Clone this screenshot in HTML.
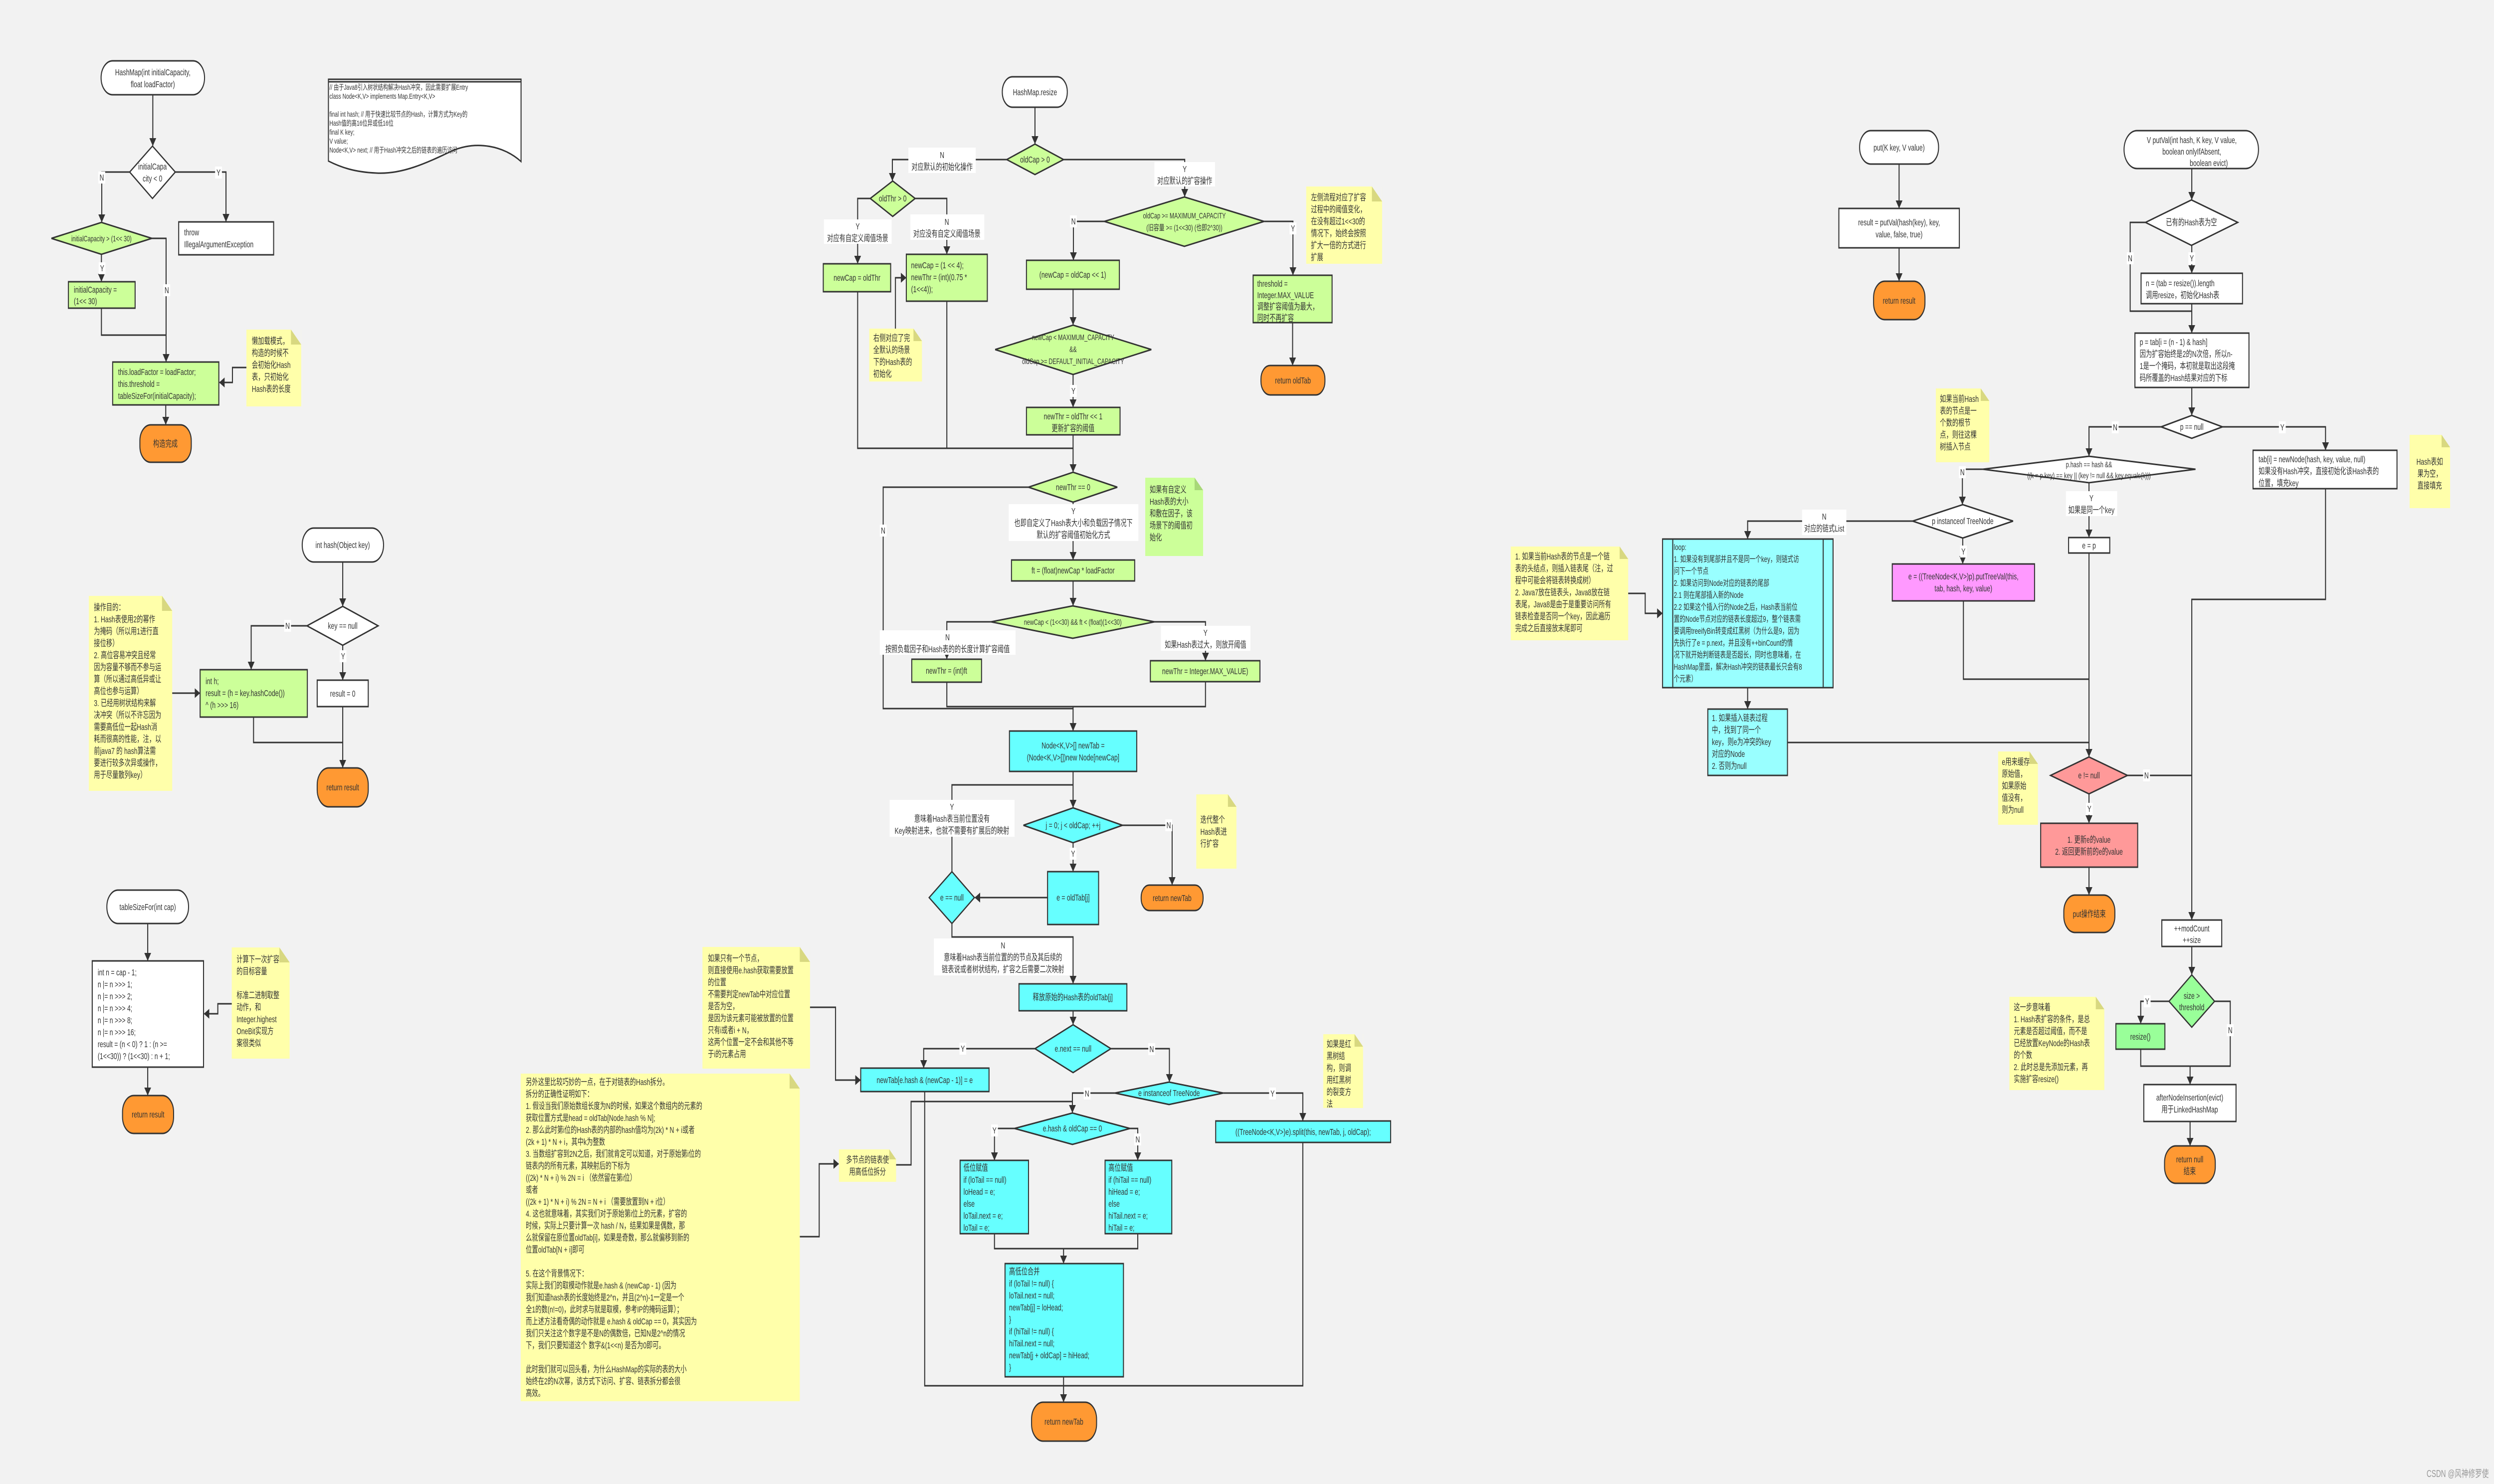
<!DOCTYPE html>
<html><head><meta charset="utf-8"><style>
html,body{margin:0;padding:0;background:#f2f2f2;overflow:hidden;width:100%;height:100%}
svg{display:block;width:100vw;height:100vh}
.s{stroke:#333;stroke-width:3;fill:none}
.a{stroke:#333;stroke-width:3;fill:none;marker-end:url(#ar)}
.bx{stroke:#333;stroke-width:3}
text{font-family:"Liberation Sans","Noto Sans CJK SC",sans-serif;font-size:18px;fill:#333}
.m{text-anchor:middle}
.sm{font-size:16px}
.w{fill:#fff}.g{fill:#ccff99}.c{fill:#66ffff}.lc{fill:#99ffff}.o{fill:#ff9933}.y{fill:#ffffaa}.pk{fill:#ff99ff}.rd{fill:#ff9999}.lg{fill:#99ff99}
</style></head><body>
<svg viewBox="0 0 7328 2976" preserveAspectRatio="none" xmlns="http://www.w3.org/2000/svg">
<defs><marker id="ar" markerUnits="userSpaceOnUse" markerWidth="16" markerHeight="20" refX="15" refY="10" orient="auto"><path d="M0,0 L16,10 L0,20 Z" fill="#333"/></marker></defs>
<rect width="7328" height="2976" fill="#f2f2f2"/>

<!-- ===== HashMap constructor ===== -->
<rect x="297" y="122" width="304" height="68" rx="34" class="bx w"/>
<text class="m" x="449" y="151">HashMap(int initialCapacity,</text>
<text class="m" x="449" y="175">float loadFactor)</text>
<path class="a" d="M449,190 V292"/>
<polygon points="381,345 448,293 515,345 448,398" class="bx w"/>
<text class="m" x="448" y="340">initialCapa</text><text class="m" x="448" y="364">city &lt; 0</text>
<path class="a" d="M381,345 H299 V445"/>
<rect x="289" y="344" width="20" height="24" fill="#fff"/><text class="m" x="299" y="362">N</text>
<path class="a" d="M515,345 H664 V444"/>
<rect x="632" y="334" width="20" height="24" fill="#fff"/><text class="m" x="642" y="352">Y</text>
<rect x="525" y="445" width="279" height="66" class="bx w"/>
<text x="541" y="472">throw</text><text x="541" y="496">IllegalArgumentException</text>
<polygon points="151,478 298,446 446,478 298,510" class="bx g"/>
<text class="m sm" x="298" y="484">initialCapacity &gt; (1&lt;&lt; 30)</text>
<path class="a" d="M298,510 V564"/>
<rect x="290" y="526" width="20" height="24" fill="#fff"/><text class="m" x="300" y="544">Y</text>
<rect x="201" y="565" width="196" height="53" class="bx g"/>
<text x="217" y="587">initialCapacity =</text><text x="217" y="610">(1&lt;&lt; 30)</text>
<path class="a" d="M446,478 H488 V725"/>
<rect x="480" y="570" width="20" height="24" fill="#fff"/><text class="m" x="490" y="588">N</text>
<path class="s" d="M298,618 V672 H488"/>
<rect x="331" y="726" width="312" height="86" class="bx g"/>
<text x="347" y="752">this.loadFactor = loadFactor;</text><text x="347" y="776">this.threshold =</text><text x="347" y="800">tableSizeFor(initialCapacity);</text>
<rect x="724" y="661" width="161" height="154" class="y"/><polygon points="855,661 885,661 885,691" fill="#f2f2f2"/><polygon points="855,661 885,691 855,691" fill="#d8d880"/>
<text x="740" y="690">懒加载模式，</text><text x="740" y="714">构造的时候不</text><text x="740" y="738">会初始化Hash</text><text x="740" y="762">表，只初始化</text><text x="740" y="786">Hash表的长度</text>
<path class="a" d="M724,737 H683 V767 H645"/>
<path class="a" d="M487,812 V851"/>
<rect x="411" y="852" width="151" height="75" rx="32" class="bx o"/><text class="m" x="486" y="896">构造完成</text>

<!-- ===== Node doc ===== -->
<path d="M965,159 H1531 V324 C1480,292 1400,282 1330,302 C1250,328 1180,350 1105,347 C1040,345 1000,335 965,323 Z" class="bx w"/>
<path class="s" d="M965,164 H1531"/>
<text style="font-size:15px" x="968" y="180">// 由于Java8引入树状结构解决Hash冲突，因此需要扩展Entry</text>
<text style="font-size:15px" x="968" y="198">class Node&lt;K,V&gt; implements Map.Entry&lt;K,V&gt;</text>
<text style="font-size:15px" x="968" y="234">final int hash; // 用于快速比较节点的Hash，计算方式为Key的</text>
<text style="font-size:15px" x="968" y="252">Hash值的高16位异或低16位</text>
<text style="font-size:15px" x="968" y="270">final K key;</text>
<text style="font-size:15px" x="968" y="288">V value;</text>
<text style="font-size:15px" x="968" y="306">Node&lt;K,V&gt; next; // 用于Hash冲突之后的链表的遍历访问</text>

<!-- ===== hash() ===== -->
<rect x="888" y="1059" width="239" height="68" rx="34" class="bx w"/><text class="m" x="1007" y="1099">int hash(Object key)</text>
<path class="a" d="M1007,1127 V1215"/>
<polygon points="902,1255 1007,1216 1111,1255 1007,1294" class="bx w"/><text class="m" x="1007" y="1261">key == null</text>
<path class="a" d="M902,1255 H738 V1342"/>
<rect x="835" y="1243" width="20" height="24" fill="#fff"/><text class="m" x="845" y="1261">N</text>
<rect x="588" y="1343" width="315" height="95" class="bx g"/>
<text x="604" y="1372">int h;</text><text x="604" y="1396">result = (h = key.hashCode())</text><text x="604" y="1420">^ (h &gt;&gt;&gt; 16)</text>
<path class="a" d="M1007,1294 V1363"/>
<rect x="998" y="1304" width="20" height="24" fill="#fff"/><text class="m" x="1008" y="1322">Y</text>
<rect x="932" y="1364" width="150" height="53" class="bx w"/><text class="m" x="1007" y="1397">result = 0</text>
<path class="a" d="M1007,1417 V1539"/><path class="s" d="M745,1438 V1489 H1007"/>
<rect x="932" y="1540" width="150" height="78" rx="34" class="bx o"/><text class="m" x="1007" y="1585">return result</text>
<rect x="261" y="1195" width="245" height="391" class="y"/><polygon points="476,1195 506,1195 506,1225" fill="#f2f2f2"/><polygon points="476,1195 506,1225 476,1225" fill="#d8d880"/>
<text x="276" y="1224">操作目的：</text><text x="276" y="1248">1. Hash表使用2的幂作</text><text x="276" y="1272">为掩码（所以用1进行直</text><text x="276" y="1296">接位移）</text><text x="276" y="1320">2. 高位容易冲突且经常</text><text x="276" y="1344">因为容量不够而不参与运</text><text x="276" y="1368">算（所以通过高低异或让</text><text x="276" y="1392">高位也参与运算）</text><text x="276" y="1416">3. 已经用树状结构来解</text><text x="276" y="1440">决冲突（所以不许忘因为</text><text x="276" y="1464">需要高低位一起Hash消</text><text x="276" y="1488">耗而很高的性能，注，以</text><text x="276" y="1512">前java7 的 hash算法需</text><text x="276" y="1536">要进行较多次异或操作，</text><text x="276" y="1560">用于尽量散列key）</text>
<path class="a" d="M506,1390 H587"/>

<!-- ===== tableSizeFor ===== -->
<rect x="314" y="1785" width="240" height="67" rx="33" class="bx w"/><text class="m" x="434" y="1825">tableSizeFor(int cap)</text>
<path class="a" d="M434,1852 V1926"/>
<rect x="271" y="1927" width="327" height="213" class="bx w"/>
<text x="287" y="1956">int n = cap - 1;</text><text x="287" y="1980">n |= n &gt;&gt;&gt; 1;</text><text x="287" y="2004">n |= n &gt;&gt;&gt; 2;</text><text x="287" y="2028">n |= n &gt;&gt;&gt; 4;</text><text x="287" y="2052">n |= n &gt;&gt;&gt; 8;</text><text x="287" y="2076">n |= n &gt;&gt;&gt; 16;</text><text x="287" y="2100">result = (n &lt; 0) ? 1 : (n &gt;=</text><text x="287" y="2124">(1&lt;&lt;30)) ? (1&lt;&lt;30) : n + 1;</text>
<path class="a" d="M434,2140 V2196"/>
<rect x="360" y="2197" width="150" height="76" rx="33" class="bx o"/><text class="m" x="435" y="2241">return result</text>
<rect x="681" y="1900" width="170" height="223" class="y"/><polygon points="821,1900 851,1900 851,1930" fill="#f2f2f2"/><polygon points="821,1900 851,1930 821,1930" fill="#d8d880"/>
<text x="695" y="1930">计算下一次扩容</text><text x="695" y="1954">的目标容量</text><text x="695" y="2002">标准二进制取整</text><text x="695" y="2026">动作，和</text><text x="695" y="2050">Integer.highest</text><text x="695" y="2074">OneBit实现方</text><text x="695" y="2098">案很类似</text>
<path class="a" d="M681,2013 H640 V2033 H600"/>

<!-- ===== resize ===== -->
<rect x="2945" y="154" width="191" height="61" rx="30" class="bx w"/><text class="m" x="3041" y="191">HashMap.resize</text>
<path class="a" d="M3041,215 V288"/>
<polygon points="2958,320 3041,289 3125,320 3041,350" class="bx g"/><text class="m" x="3041" y="326">oldCap &gt; 0</text>
<path class="a" d="M2958,320 H2622 V362"/>
<rect x="2669" y="296" width="198" height="51" fill="#fff"/><text class="m" x="2768" y="317">N</text><text class="m" x="2768" y="341">对应默认的初始化操作</text>
<path class="a" d="M3125,320 H3481 V394"/>
<rect x="3392" y="325" width="178" height="49" fill="#fff"/><text class="m" x="3481" y="345">Y</text><text class="m" x="3481" y="369">对应默认的扩容操作</text>
<polygon points="2557,398 2623,363 2689,398 2623,434" class="bx g"/><text class="m" x="2623" y="404">oldThr &gt; 0</text>
<path class="a" d="M2557,398 H2520 V528"/>
<rect x="2421" y="440" width="199" height="49" fill="#fff"/><text class="m" x="2520" y="460">Y</text><text class="m" x="2520" y="484">对应有自定义阈值场景</text>
<path class="a" d="M2689,398 H2782 V509"/>
<rect x="2675" y="430" width="217" height="51" fill="#fff"/><text class="m" x="2782" y="451">N</text><text class="m" x="2782" y="475">对应没有自定义阈值场景</text>
<rect x="2419" y="529" width="198" height="56" class="bx g"/><text class="m" x="2518" y="563">newCap = oldThr</text>
<rect x="2663" y="510" width="238" height="94" class="bx g"/>
<text x="2677" y="538">newCap = (1 &lt;&lt; 4);</text><text x="2677" y="562">newThr = (int)(0.75 *</text><text x="2677" y="586">(1&lt;&lt;4));</text>
<rect x="2554" y="659" width="155" height="106" class="y"/><polygon points="2684,659 2709,659 2709,684" fill="#f2f2f2"/><polygon points="2684,659 2709,684 2684,684" fill="#d8d880"/>
<text x="2566" y="684">右侧对应了完</text><text x="2566" y="708">全默认的场景</text><text x="2566" y="732">下的Hash表的</text><text x="2566" y="756">初始化</text>
<path class="a" d="M2631,659 V557 H2662"/>
<polygon points="3245,444 3480,395 3714,444 3480,494" class="bx g"/>
<text class="m sm" x="3480" y="438">oldCap &gt;= MAXIMUM_CAPACITY</text><text class="m sm" x="3480" y="462">(旧容量 &gt;= (1&lt;&lt;30) (也即2^30))</text>
<path class="a" d="M3245,444 H3154 V521"/>
<rect x="3144" y="432" width="20" height="24" fill="#fff"/><text class="m" x="3154" y="450">N</text>
<rect x="3016" y="522" width="273" height="58" class="bx g"/><text class="m" x="3152" y="557">(newCap = oldCap &lt;&lt; 1)</text>
<path class="a" d="M3714,444 H3799 V551"/>
<rect x="3789" y="446" width="20" height="24" fill="#fff"/><text class="m" x="3799" y="464">Y</text>
<rect x="3682" y="552" width="232" height="95" class="bx g"/>
<text x="3694" y="575">threshold =</text><text x="3694" y="598">Integer.MAX_VALUE</text><text x="3694" y="621">调整扩容阈值为最大，</text><text x="3694" y="644">同时不再扩容</text>
<rect x="3838" y="374" width="223" height="155" class="y"/><polygon points="4031,374 4061,374 4061,404" fill="#f2f2f2"/><polygon points="4031,374 4061,404 4031,404" fill="#d8d880"/>
<text x="3852" y="402">左侧流程对应了扩容</text><text x="3852" y="426">过程中的阈值变化，</text><text x="3852" y="450">在没有超过1&lt;&lt;30的</text><text x="3852" y="474">情况下，始终会按照</text><text x="3852" y="498">扩大一倍的方式进行</text><text x="3852" y="522">扩展</text>
<path class="a" d="M3798,647 V732"/>
<rect x="3705" y="733" width="188" height="59" rx="27" class="bx o"/><text class="m" x="3799" y="769">return oldTab</text>
<path class="a" d="M3153,580 V651"/>
<polygon points="2924,701 3153,652 3383,701 3153,751" class="bx g"/>
<text class="m sm" x="3153" y="682">newCap &lt; MAXIMUM_CAPACITY</text><text class="m sm" x="3153" y="706">&amp;&amp;</text><text class="m sm" x="3153" y="730">oldCap &gt;= DEFAULT_INITIAL_CAPACITY</text>
<path class="a" d="M3153,751 V816"/>
<rect x="3144" y="772" width="20" height="24" fill="#fff"/><text class="m" x="3154" y="790">Y</text>
<rect x="3016" y="817" width="275" height="55" class="bx g"/><text class="m" x="3153" y="841">newThr = oldThr &lt;&lt; 1</text><text class="m" x="3153" y="865">更新扩容的阈值</text>
<path class="s" d="M2520,585 V899 H3153"/><path class="s" d="M2782,604 V899"/>
<path class="a" d="M3153,872 V946"/>
<polygon points="3022,977 3153,947 3283,977 3153,1007" class="bx g"/><text class="m" x="3153" y="983">newThr == 0</text>
<path class="s" d="M3022,977 H2595 V1421 H3153"/>
<rect x="2585" y="1052" width="20" height="24" fill="#fff"/><text class="m" x="2595" y="1070">N</text>
<path class="a" d="M3153,1007 V1122"/>
<rect x="2964" y="1011" width="381" height="74" fill="#fff"/><text class="m" x="3154" y="1031">Y</text><text class="m" x="3154" y="1055">也即自定义了Hash表大小和负载因子情况下</text><text class="m" x="3154" y="1079">默认的扩容阈值初始化方式</text>
<rect x="3365" y="958" width="170" height="157" class="g"/><polygon points="3510,958 3535,958 3535,983" fill="#f2f2f2"/><polygon points="3510,958 3535,983 3510,983" fill="#a8d878"/>
<text x="3378" y="988">如果有自定义</text><text x="3378" y="1012">Hash表的大小</text><text x="3378" y="1036">和敷在因子，该</text><text x="3378" y="1060">场景下的阈值初</text><text x="3378" y="1084">始化</text>
<rect x="2972" y="1123" width="362" height="42" class="bx g"/><text class="m" x="3153" y="1150">ft = (float)newCap * loadFactor</text>
<path class="a" d="M3153,1165 V1214"/>
<polygon points="2912,1247 3152,1215 3392,1247 3152,1280" class="bx g"/><text class="m sm" x="3152" y="1253">newCap &lt; (1&lt;&lt;30) &amp;&amp; ft &lt; (float)(1&lt;&lt;30)</text>
<path class="a" d="M2912,1247 H2782 V1321"/>
<rect x="2585" y="1264" width="399" height="49" fill="#fff"/><text class="m" x="2784" y="1284">N</text><text class="m" x="2784" y="1308">按照负载因子和Hash表的的长度计算扩容阈值</text>
<rect x="2679" y="1322" width="205" height="46" class="bx g"/><text class="m" x="2781" y="1351">newThr = (int)ft</text>
<path class="a" d="M3392,1247 H3542 V1324"/>
<rect x="3411" y="1255" width="263" height="50" fill="#fff"/><text class="m" x="3542" y="1275">Y</text><text class="m" x="3542" y="1299">如果Hash表过大，则放开阈值</text>
<rect x="3380" y="1325" width="322" height="42" class="bx g"/><text class="m" x="3541" y="1352">newThr = Integer.MAX_VALUE)</text>
<path class="s" d="M2782,1368 V1417 H3542 V1367"/>
<path class="a" d="M3153,1417 V1465"/>
<rect x="2966" y="1466" width="374" height="81" class="bx c"/><text class="m" x="3153" y="1501">Node&lt;K,V&gt;[] newTab =</text><text class="m" x="3153" y="1525">(Node&lt;K,V&gt;[])new Node[newCap]</text>
<path class="a" d="M3153,1547 V1619"/>
<polygon points="3007,1655 3153,1620 3298,1655 3153,1690" class="bx c"/><text class="m" x="3153" y="1661">j = 0; j &lt; oldCap; ++j</text>
<path class="s" d="M2797,1748 V1574 H3153"/>
<rect x="2614" y="1604" width="367" height="74" fill="#fff"/><text class="m" x="2797" y="1624">Y</text><text class="m" x="2797" y="1648">意味着Hash表当前位置没有</text><text class="m" x="2797" y="1672">Key映射进来，也就不需要有扩展后的映射</text>
<path class="a" d="M3298,1655 H3444 V1774"/>
<rect x="3424" y="1643" width="20" height="24" fill="#fff"/><text class="m" x="3434" y="1661">N</text>
<rect x="3515" y="1593" width="118" height="149" class="y"/><polygon points="3608,1593 3633,1593 3633,1618" fill="#f2f2f2"/><polygon points="3608,1593 3633,1618 3608,1618" fill="#d8d880"/>
<text x="3527" y="1650">迭代整个</text><text x="3527" y="1674">Hash表进</text><text x="3527" y="1698">行扩容</text>
<rect x="3353" y="1775" width="182" height="51" rx="24" class="bx o"/><text class="m" x="3444" y="1807">return newTab</text>
<path class="a" d="M3153,1690 V1747"/>
<rect x="3143" y="1700" width="20" height="24" fill="#fff"/><text class="m" x="3153" y="1718">Y</text>
<rect x="3078" y="1748" width="150" height="106" class="bx c"/><text class="m" x="3153" y="1806">e = oldTab[j]</text>
<polygon points="2730,1800 2797,1748 2863,1800 2797,1852" class="bx c"/><text class="m" x="2797" y="1806">e == null</text>
<path class="a" d="M3078,1800 H2865"/>
<path class="a" d="M2797,1852 V1879 H3153 V1972"/>
<rect x="2744" y="1882" width="406" height="74" fill="#fff"/><text class="m" x="2947" y="1902">N</text><text class="m" x="2947" y="1926">意味着Hash表当前位置的的节点及其后续的</text><text class="m" x="2947" y="1950">链表说或者树状结构，扩容之后需要二次映射</text>
<rect x="2994" y="1973" width="317" height="54" class="bx c"/><text class="m" x="3152" y="2006">释放原始的Hash表的oldTab[j]</text>
<path class="a" d="M3153,2027 V2054"/>
<polygon points="3041,2103 3153,2055 3264,2103 3153,2151" class="bx c"/><text class="m" x="3153" y="2109">e.next == null</text>
<path class="a" d="M3041,2103 H2714 V2141"/>
<rect x="2819" y="2091" width="20" height="24" fill="#fff"/><text class="m" x="2829" y="2109">Y</text>
<rect x="2529" y="2142" width="377" height="47" class="bx c"/><text class="m" x="2717" y="2172">newTab[e.hash &amp; (newCap - 1)] = e</text>
<path class="a" d="M3264,2103 H3436 V2169"/>
<rect x="3374" y="2092" width="20" height="24" fill="#fff"/><text class="m" x="3384" y="2110">N</text>
<polygon points="3276,2192 3435,2170 3594,2192 3435,2215" class="bx c"/><text class="m" x="3435" y="2198">e instanceof TreeNode</text>
<path class="a" d="M3276,2192 H3151 V2231"/>
<rect x="3184" y="2181" width="20" height="24" fill="#fff"/><text class="m" x="3194" y="2199">N</text>
<path class="a" d="M3594,2192 H3828 V2247"/>
<rect x="3729" y="2181" width="20" height="24" fill="#fff"/><text class="m" x="3739" y="2199">Y</text>
<rect x="3572" y="2248" width="514" height="43" class="bx c"/><text class="m" x="3829" y="2276">((TreeNode&lt;K,V&gt;)e).split(this, newTab, j, oldCap);</text>
<rect x="3888" y="2074" width="117" height="148" class="y"/><polygon points="3980,2074 4005,2074 4005,2099" fill="#f2f2f2"/><polygon points="3980,2074 4005,2099 3980,2099" fill="#d8d880"/>
<text x="3898" y="2100">如果是红</text><text x="3898" y="2124">黑树结</text><text x="3898" y="2148">构，则调</text><text x="3898" y="2172">用红黑树</text><text x="3898" y="2196">的裂变方</text><text x="3898" y="2220">法</text>
<polygon points="2981,2263 3151,2232 3320,2263 3151,2295" class="bx c"/><text class="m" x="3151" y="2269">e.hash &amp; oldCap == 0</text>
<path class="a" d="M2981,2263 H2922 V2326"/>
<rect x="2912" y="2255" width="20" height="24" fill="#fff"/><text class="m" x="2922" y="2273">Y</text>
<path class="a" d="M3320,2263 H3343 V2326"/>
<rect x="3333" y="2273" width="20" height="24" fill="#fff"/><text class="m" x="3343" y="2291">N</text>
<rect x="2821" y="2327" width="201" height="147" class="bx c"/>
<text x="2831" y="2348">低位赋值</text><text x="2831" y="2372">if (loTail == null)</text><text x="2831" y="2396">    loHead = e;</text><text x="2831" y="2420">else</text><text x="2831" y="2444">    loTail.next = e;</text><text x="2831" y="2468">loTail = e;</text>
<rect x="3247" y="2327" width="196" height="147" class="bx c"/>
<text x="3257" y="2348">高位赋值</text><text x="3257" y="2372">if (hiTail == null)</text><text x="3257" y="2396">    hiHead = e;</text><text x="3257" y="2420">else</text><text x="3257" y="2444">    hiTail.next = e;</text><text x="3257" y="2468">hiTail = e;</text>
<path class="s" d="M2922,2474 V2504 H3343 V2474"/><path class="a" d="M3125,2504 V2533"/>
<rect x="2953" y="2534" width="348" height="227" class="bx c"/>
<text x="2965" y="2556">高低位合并</text><text x="2965" y="2580">if (loTail != null) {</text><text x="2965" y="2604">    loTail.next = null;</text><text x="2965" y="2628">    newTab[j] = loHead;</text><text x="2965" y="2652">}</text><text x="2965" y="2676">if (hiTail != null) {</text><text x="2965" y="2700">    hiTail.next = null;</text><text x="2965" y="2724">    newTab[j + oldCap] = hiHead;</text><text x="2965" y="2748">}</text>
<path class="s" d="M2717,2189 V2779 H3828 V2291"/><path class="a" d="M3125,2761 V2811"/>
<rect x="3031" y="2812" width="191" height="78" rx="34" class="bx o"/><text class="m" x="3126" y="2857">return newTab</text>
<rect x="2064" y="1899" width="316" height="244" class="y"/><polygon points="2350,1899 2380,1899 2380,1929" fill="#f2f2f2"/><polygon points="2350,1899 2380,1929 2350,1929" fill="#d8d880"/>
<text x="2080" y="1928">如果只有一个节点，</text><text x="2080" y="1952">则直接使用e.hash获取需要放置</text><text x="2080" y="1976">的位置</text><text x="2080" y="2000">不需要判定newTab中对应位置</text><text x="2080" y="2024">是否为空，</text><text x="2080" y="2048">是因为该元素可能被放置的位置</text><text x="2080" y="2072">只有i或者i + N，</text><text x="2080" y="2096">这两个位置一定不会和其他不等</text><text x="2080" y="2120">于i的元素占用</text>
<path class="a" d="M2380,2020 H2455 V2166 H2528"/>
<rect x="2465" y="2305" width="168" height="65" class="y"/><polygon points="2613,2305 2633,2305 2633,2325" fill="#f2f2f2"/><polygon points="2613,2305 2633,2325 2613,2325" fill="#d8d880"/>
<text class="m" x="2549" y="2332">多节点的链表使</text><text class="m" x="2549" y="2356">用高低位拆分</text>
<path class="s" d="M2633,2336 H2677 V2209 H3151"/>
<rect x="1530" y="2153" width="820" height="657" class="y"/><polygon points="2320,2153 2350,2153 2350,2183" fill="#f2f2f2"/><polygon points="2320,2153 2350,2183 2320,2183" fill="#d8d880"/>
<text x="1545" y="2176">另外这里比较巧妙的一点，在于对链表的Hash拆分。</text>
<text x="1545" y="2200">拆分的正确性证明如下：</text>
<text x="1545" y="2224">1. 假设当我们原始数组长度为N的时候，如果这个数组内的元素的</text>
<text x="1545" y="2248">获取位置方式是head = oldTab[Node.hash % N];</text>
<text x="1545" y="2272">2. 那么此时第i位的Hash表的内部的hash值均为(2k) * N + i或者</text>
<text x="1545" y="2296">(2k + 1) * N + i，其中k为整数</text>
<text x="1545" y="2320">3. 当数组扩容到2N之后，我们就肯定可以知道，对于原始第i位的</text>
<text x="1545" y="2344">链表内的所有元素，其映射后的下标为</text>
<text x="1545" y="2368">((2k) * N + i) % 2N = i （依然留在第i位）</text>
<text x="1545" y="2392">或者</text>
<text x="1545" y="2416">((2k + 1) * N + i) % 2N = N + i （需要放置到N + i位）</text>
<text x="1545" y="2440">4. 这也就意味着，其实我们对于原始第i位上的元素，扩容的</text>
<text x="1545" y="2464">时候，实际上只要计算一次 hash / N，结果如果是偶数，那</text>
<text x="1545" y="2488">么就保留在原位置oldTab[i]，如果是奇数，那么就偏移到新的</text>
<text x="1545" y="2512">位置oldTab[N + i]即可</text>
<text x="1545" y="2560">5. 在这个背景情况下：</text>
<text x="1545" y="2584">实际上我们的取模动作就是e.hash &amp; (newCap - 1) (因为</text>
<text x="1545" y="2608">我们知道hash表的长度始终是2^n，并且(2^n)-1一定是一个</text>
<text x="1545" y="2632">全1的数(n!=0)，此时求与就是取模，参考IP的掩码运算）；</text>
<text x="1545" y="2656">而上述方法看奇偶的动作就是 e.hash &amp; oldCap == 0，其实因为</text>
<text x="1545" y="2680">我们只关注这个数字是不是N的偶数倍，已知N是2^n的情况</text>
<text x="1545" y="2704">下，我们只要知道这个 数字&amp;(1&lt;&lt;n) 是否为0即可。</text>
<text x="1545" y="2752">此时我们就可以回头看，为什么HashMap的实际的表的大小</text>
<text x="1545" y="2776">始终在2的N次幂，该方式下访问、扩容、链表拆分都会很</text>
<text x="1545" y="2800">高效。</text>
<path class="a" d="M2350,2480 H2407 V2334 H2464"/>

<!-- ===== put ===== -->
<rect x="5464" y="262" width="232" height="67" rx="33" class="bx w"/><text class="m" x="5580" y="302">put(K key, V value)</text>
<path class="a" d="M5580,329 V417"/>
<rect x="5403" y="418" width="354" height="79" class="bx w"/><text class="m" x="5580" y="452">result = putVal(hash(key), key,</text><text class="m" x="5580" y="476">value, false, true)</text>
<path class="a" d="M5580,497 V563"/>
<rect x="5505" y="564" width="151" height="77" rx="33" class="bx o"/><text class="m" x="5580" y="609">return result</text>

<!-- ===== putVal ===== -->
<rect x="6241" y="262" width="395" height="76" rx="38" class="bx w"/>
<text class="m" x="6440" y="287">V putVal(int hash, K key, V value,</text><text class="m" x="6440" y="310">boolean onlyIfAbsent,</text><text class="m" x="6490" y="333">boolean evict)</text>
<path class="a" d="M6440,338 V400"/>
<polygon points="6304,446 6439,401 6575,446 6439,492" class="bx w"/><text class="m" x="6439" y="452">已有的Hash表为空</text>
<path class="s" d="M6304,446 H6259 V624 H6440"/>
<rect x="6249" y="506" width="20" height="24" fill="#fff"/><text class="m" x="6259" y="524">N</text>
<path class="a" d="M6440,492 V547"/>
<rect x="6430" y="506" width="20" height="24" fill="#fff"/><text class="m" x="6440" y="524">Y</text>
<rect x="6291" y="548" width="298" height="61" class="bx w"/><text x="6305" y="574">n = (tab = resize()).length</text><text x="6305" y="598">调用resize，初始化Hash表</text>
<path class="a" d="M6440,609 V667"/>
<rect x="6273" y="668" width="335" height="109" class="bx w"/>
<text x="6287" y="692">p = tab[i = (n - 1) &amp; hash]</text><text x="6287" y="716">因为扩容始终是2的N次倍，所以n-</text><text x="6287" y="740">1是一个掩码，本初就是取出这段掩</text><text x="6287" y="764">码所覆盖的Hash结果对应的下标</text>
<path class="a" d="M6440,777 V832"/>
<polygon points="6350,856 6440,833 6530,856 6440,879" class="bx w"/><text class="m" x="6440" y="862">p == null</text>
<path class="a" d="M6350,856 H6138 V914"/>
<rect x="6205" y="845" width="20" height="24" fill="#fff"/><text class="m" x="6215" y="863">N</text>
<path class="a" d="M6530,856 H6833 V902"/>
<rect x="6696" y="845" width="20" height="24" fill="#fff"/><text class="m" x="6706" y="863">Y</text>
<rect x="6620" y="903" width="423" height="77" class="bx w"/>
<text x="6636" y="927">tab[i] = newNode(hash, key, value, null)</text><text x="6636" y="951">如果没有Hash冲突，直接初始化该Hash表的</text><text x="6636" y="975">位置，填充key</text>
<rect x="7080" y="872" width="119" height="147" class="y"/><polygon points="7174,872 7199,872 7199,897" fill="#f2f2f2"/><polygon points="7174,872 7199,897 7174,897" fill="#d8d880"/>
<text class="m" x="7139" y="932">Hash表如</text><text class="m" x="7139" y="956">果为空，</text><text class="m" x="7139" y="980">直接填充</text>
<polygon points="5826,941 6138,915 6451,941 6138,968" class="bx w"/>
<text class="m sm" x="6138" y="937">p.hash == hash &amp;&amp;</text><text class="m sm" x="6138" y="959">((k = p.key) == key || (key != null &amp;&amp; key.equals(k)))</text>
<path class="a" d="M5826,941 H5766 V1011"/>
<rect x="5756" y="935" width="20" height="24" fill="#fff"/><text class="m" x="5766" y="953">N</text>
<path class="a" d="M6138,968 V1077"/>
<rect x="6070" y="985" width="151" height="50" fill="#fff"/><text class="m" x="6145" y="1005">Y</text><text class="m" x="6145" y="1029">如果是同一个key</text>
<rect x="6078" y="1078" width="121" height="31" class="bx w"/><text class="m" x="6138" y="1100">e = p</text>
<path class="a" d="M6138,1109 V1517"/>
<rect x="5688" y="779" width="157" height="148" class="y"/><polygon points="5820,779 5845,779 5845,804" fill="#f2f2f2"/><polygon points="5820,779 5845,804 5820,804" fill="#d8d880"/>
<text x="5700" y="806">如果当前Hash</text><text x="5700" y="830">表的节点是一</text><text x="5700" y="854">个数的根节</text><text x="5700" y="878">点，则往这棵</text><text x="5700" y="902">树插入节点</text>
<polygon points="5620,1045 5767,1012 5915,1045 5767,1079" class="bx w"/><text class="m" x="5767" y="1051">p instanceof TreeNode</text>
<path class="a" d="M5767,1079 V1130"/>
<rect x="5759" y="1094" width="20" height="24" fill="#fff"/><text class="m" x="5769" y="1112">Y</text>
<rect x="5560" y="1131" width="418" height="74" class="bx pk"/><text class="m" x="5769" y="1162">e = ((TreeNode&lt;K,V&gt;)p).putTreeVal(this,</text><text class="m" x="5769" y="1186">tab, hash, key, value)</text>
<path class="s" d="M5769,1205 V1362 H6138"/>
<path class="a" d="M5620,1045 H5135 V1080"/>
<rect x="5295" y="1022" width="130" height="51" fill="#fff"/><text class="m" x="5360" y="1042">N</text><text class="m" x="5360" y="1066">对应的链式List</text>
<rect x="4885" y="1081" width="501" height="298" class="bx lc"/><path class="s" d="M4915,1081 V1379 M5357,1081 V1379"/>
<text style="font-size:17px" x="4918" y="1103">loop:</text>
<text style="font-size:17px" x="4918" y="1127">1. 如果没有到尾部并且不是同一个key，则链式访</text>
<text style="font-size:17px" x="4918" y="1151">问下一个节点</text>
<text style="font-size:17px" x="4918" y="1175">2. 如果访问到Node对应的链表的尾部</text>
<text style="font-size:17px" x="4918" y="1199">2.1 则在尾部插入新的Node</text>
<text style="font-size:17px" x="4918" y="1223">2.2 如果这个插入行的Node之后，Hash表当前位</text>
<text style="font-size:17px" x="4918" y="1247">置的Node节点对应的链表长度超过9，整个链表需</text>
<text style="font-size:17px" x="4918" y="1271">要调用treeifyBin转变成红黑树（为什么是9，因为</text>
<text style="font-size:17px" x="4918" y="1295">先执行了e = p.next，并且没有++binCount的情</text>
<text style="font-size:17px" x="4918" y="1319">况下就开始判断链表是否超长，同时也意味着，在</text>
<text style="font-size:17px" x="4918" y="1343">HashMap里面，解决Hash冲突的链表最长只会有8</text>
<text style="font-size:17px" x="4918" y="1367">个元素）</text>
<rect x="4439" y="1096" width="345" height="188" class="y"/><polygon points="4759,1096 4784,1096 4784,1121" fill="#f2f2f2"/><polygon points="4759,1096 4784,1121 4759,1121" fill="#d8d880"/>
<text x="4452" y="1122">1. 如果当前Hash表的节点是一个链</text><text x="4452" y="1146">表的头结点，则插入链表尾（注，过</text><text x="4452" y="1170">程中可能会将链表转换成树）</text><text x="4452" y="1194">2. Java7放在链表头，Java8放在链</text><text x="4452" y="1218">表尾，Java8是由于是重要访问所有</text><text x="4452" y="1242">链表检查是否同一个key，因此遍历</text><text x="4452" y="1266">完成之后直接放末尾即可</text>
<path class="a" d="M4784,1190 H4834 V1230 H4884"/>
<path class="a" d="M5135,1379 V1421"/>
<rect x="5018" y="1422" width="234" height="133" class="bx lc"/>
<text x="5030" y="1446">1. 如果插入链表过程</text><text x="5030" y="1470">中，找到了同一个</text><text x="5030" y="1494">key，则e为冲突的key</text><text x="5030" y="1518">对应的Node</text><text x="5030" y="1542">2. 否则为null</text>
<path class="s" d="M5252,1489 H6138"/>
<rect x="5871" y="1507" width="117" height="147" class="y"/><polygon points="5963,1507 5988,1507 5988,1532" fill="#f2f2f2"/><polygon points="5963,1507 5988,1532 5963,1532" fill="#d8d880"/>
<text x="5882" y="1534">e用来缓存</text><text x="5882" y="1558">原始值，</text><text x="5882" y="1582">如果原始</text><text x="5882" y="1606">值没有，</text><text x="5882" y="1630">则为null</text>
<polygon points="6025,1555 6138,1518 6251,1555 6138,1592" class="bx rd"/><text class="m" x="6138" y="1561">e != null</text>
<path class="s" d="M6251,1555 H6440"/>
<rect x="6297" y="1543" width="20" height="24" fill="#fff"/><text class="m" x="6307" y="1561">N</text>
<path class="a" d="M6833,980 V1202 H6440 V1844"/>
<path class="a" d="M6138,1592 V1650"/>
<rect x="6129" y="1610" width="20" height="24" fill="#fff"/><text class="m" x="6139" y="1628">Y</text>
<rect x="5996" y="1651" width="285" height="88" class="bx rd"/><text class="m" x="6138" y="1690">1. 更新e的value</text><text class="m" x="6138" y="1714">2. 返回更新前的e的value</text>
<path class="a" d="M6138,1739 V1794"/>
<rect x="6064" y="1795" width="150" height="75" rx="33" class="bx o"/><text class="m" x="6139" y="1839">put操作结束</text>
<rect x="6352" y="1845" width="176" height="53" class="bx w"/><text class="m" x="6440" y="1868">++modCount</text><text class="m" x="6440" y="1891">++size</text>
<path class="a" d="M6440,1898 V1954"/>
<polygon points="6373,2008 6440,1955 6507,2008 6440,2060" class="bx lg"/><text class="m" x="6440" y="2003">size &gt;</text><text class="m" x="6440" y="2026">threshold</text>
<path class="a" d="M6373,2008 H6290 V2052"/>
<rect x="6299" y="1996" width="20" height="24" fill="#fff"/><text class="m" x="6309" y="2014">Y</text>
<rect x="6217" y="2053" width="144" height="51" class="bx lg"/><text class="m" x="6289" y="2085">resize()</text>
<path class="s" d="M6507,2008 H6553 V2138 H6435"/>
<rect x="6543" y="2054" width="20" height="24" fill="#fff"/><text class="m" x="6553" y="2072">N</text>
<path class="s" d="M6290,2104 V2138 H6435"/><path class="a" d="M6435,2138 V2174"/>
<rect x="6299" y="2175" width="271" height="74" class="bx w"/><text class="m" x="6434" y="2207">afterNodeInsertion(evict)</text><text class="m" x="6434" y="2231">用于LinkedHashMap</text>
<path class="a" d="M6435,2249 V2297"/>
<rect x="6360" y="2298" width="149" height="75" rx="33" class="bx o"/><text class="m" x="6434" y="2331">return null</text><text class="m" x="6434" y="2355">结束</text>
<rect x="5904" y="1999" width="279" height="187" class="y"/><polygon points="6158,1999 6183,1999 6183,2024" fill="#f2f2f2"/><polygon points="6158,1999 6183,2024 6158,2024" fill="#d8d880"/>
<text x="5917" y="2026">这一步意味着</text><text x="5917" y="2050">1. Hash表扩容的条件，是总</text><text x="5917" y="2074">元素是否超过阈值，而不是</text><text x="5917" y="2098">已经放置KeyNode的Hash表</text><text x="5917" y="2122">的个数</text><text x="5917" y="2146">2. 此时总是先添加元素，再</text><text x="5917" y="2170">实施扩容resize()</text>

<text x="7130" y="2962" style="font-size:20px;fill:#999">CSDN @风神修罗使</text>
</svg>
</body></html>
